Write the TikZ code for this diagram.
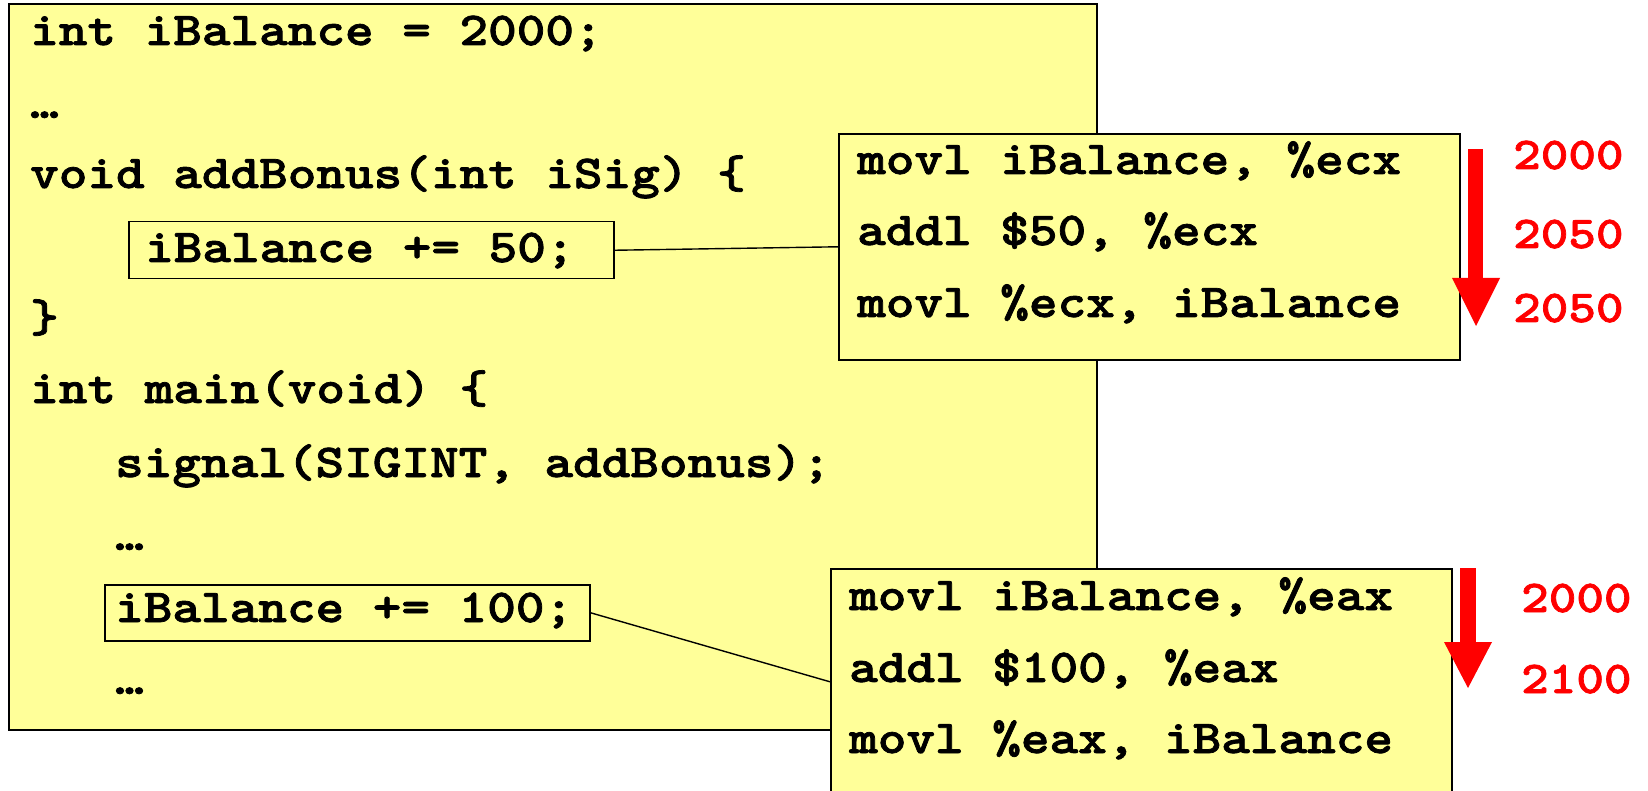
\documentclass[tikz,border=0pt]{standalone}
\usepackage{fontspec}
\newfontfamily\codefont{lmmonolt10-bold}[Extension=.otf, FakeStretch=1.155, FakeBold=1.6]
\definecolor{paper}{HTML}{FFFF99}
\definecolor{hot}{HTML}{FF0000}
\begin{document}
\begin{tikzpicture}[x=1pt,y=-1pt,
  panel/.style={draw=black, line width=1.6pt, fill=paper, inner sep=0pt, anchor=north west},
  codebox/.style={draw=black, line width=1.5pt, inner sep=0pt, anchor=north west},
  code/.style={font=\codefont\fontsize{47.2}{50}\selectfont, inner sep=0pt, anchor=base west},
  val/.style={font=\codefont\fontsize{45.5}{50}\selectfont, text=hot, inner sep=0pt, anchor=base west},
  link/.style={draw=black, line width=1.4pt},
  redarrow/.style={fill=hot, draw=none}]
\useasboundingbox (0,0) rectangle (1648,791);
\clip (0,0) rectangle (1648,791);
\fill[white] (0,0) rectangle (1648,791);

% main code panel
\node[panel, minimum width=1088pt, minimum height=726pt] (main) at (8,3) {};
\node[code] (t1) at (30,45) {int iBalance = 2000;};
\node[code] (t2) at (30,118) {…};
\node[code] (t3) at (30,188) {void addBonus(int iSig) \{};
\node[codebox, minimum width=485pt, minimum height=57pt] (b50) at (128,221) {};
\node[code] (t4) at (145,262) {iBalance += 50;};
\node[code] (t5) at (30,332) {\}};
\node[code] (t6) at (30,403) {int main(void) \{};
\node[code] (t7) at (115,477) {signal(SIGINT, addBonus);};
\node[code] (t8) at (115,550) {…};
\node[codebox, minimum width=485pt, minimum height=56pt] (b100) at (104,584) {};
\node[code] (t9) at (115,622) {iBalance += 100;};
\node[code] (t10) at (115,694) {…};

% assembly panels
\node[panel, minimum width=621pt, minimum height=226pt] (asmA) at (838,133) {};
\node[panel, minimum width=621pt, minimum height=226pt] (asmB) at (830,568) {};

% connectors
\draw[link] (b50.east) -- (asmA.west);
\draw[link] (b100.east) -- (asmB.west);

\node[code] (a1) at (857,174) {movl iBalance, \%ecx};
\node[code] (a2) at (857,245) {addl \$50, \%ecx};
\node[code] (a3) at (857,317) {movl \%ecx, iBalance};
\node[code] (a4) at (849,610) {movl iBalance, \%eax};
\node[code] (a5) at (849,682) {addl \$100, \%eax};
\node[code] (a6) at (849,753) {movl \%eax, iBalance};

% red arrows
\fill[redarrow] (1468,149) rectangle (1483,279);
\fill[redarrow] (1452,278) -- (1500,278) -- (1476,326) -- cycle;
\fill[redarrow] (1460,568) rectangle (1476,643);
\fill[redarrow] (1444,642) -- (1492,642) -- (1468,688) -- cycle;

% values
\node[val] (v1) at (1513,169) {2000};
\node[val] (v2) at (1513,248) {2050};
\node[val] (v3) at (1513,322) {2050};
\node[val] (v4) at (1521,612) {2000};
\node[val] (v5) at (1521,693) {2100};
\end{tikzpicture}
\end{document}
